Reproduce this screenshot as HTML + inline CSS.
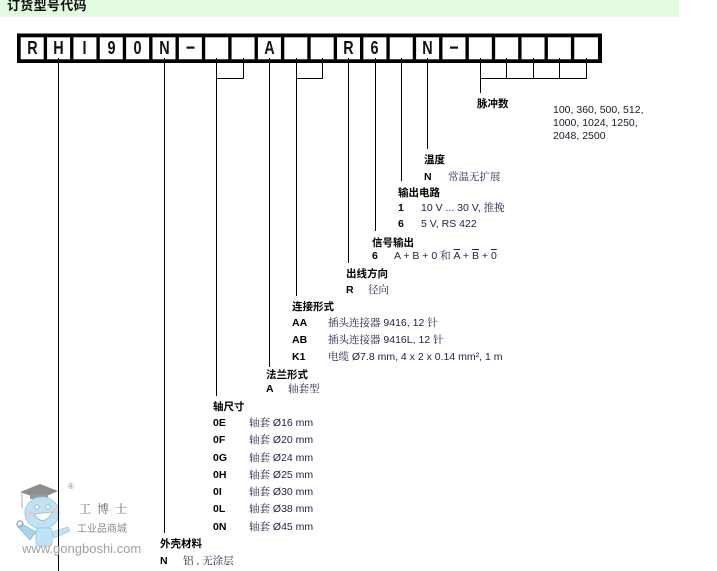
<!DOCTYPE html>
<html><head><meta charset="utf-8">
<style>
html,body{margin:0;padding:0;background:#fff;}
body{width:717px;height:571px;position:relative;overflow:hidden;font-family:"Liberation Sans","Noto Sans CJK SC",sans-serif;}
.hdr{position:absolute;left:0;top:0;width:679px;height:17px;background:#e3fbe0;}
.ttl{position:absolute;left:7px;top:-2px;font-size:13px;font-weight:bold;line-height:16px;color:#111;letter-spacing:0.3px;}
.t{position:absolute;line-height:12px;font-size:10.5px;white-space:nowrap;}
.b{font-weight:bold;color:#000;font-family:"Liberation Sans","Noto Sans CJK SC",sans-serif;}
.d{color:#22224a;font-family:"Liberation Sans","Noto Serif CJK SC",serif;}
.v{color:#1a1a2a;}
.ov{text-decoration:overline;}
svg{position:absolute;left:0;top:0;}
.L{position:absolute;top:37px;width:23px;height:22px;line-height:22px;text-align:center;font-family:"Liberation Sans",Arial,sans-serif;font-weight:bold;font-size:18px;color:#111;transform:scaleX(0.8);}
</style></head><body>
<div class="hdr"></div>
<div class="ttl">订货型号代码</div>

<svg width="717" height="571" viewBox="0 0 717 571">
  <!-- watermark -->
  <g opacity="0.85">
    <polygon points="20,492 40,484 58,491 40,499" fill="#7a7a7a"/>
    <rect x="30" y="494" width="18" height="5" fill="#888"/>
    <line x1="22" y1="492" x2="22" y2="508" stroke="#999" stroke-width="1"/>
    <ellipse cx="42" cy="513" rx="17" ry="16" fill="#b5def3" stroke="#8cc3e2" stroke-width="1"/>
    <circle cx="37" cy="507" r="2.2" fill="#fff" stroke="#7aa" stroke-width="0.8"/>
    <circle cx="48" cy="507" r="2.2" fill="#fff" stroke="#7aa" stroke-width="0.8"/>
    <circle cx="31" cy="513" r="2.5" fill="#f5b7c8"/>
    <circle cx="55" cy="511" r="2.5" fill="#f5b7c8"/>
    <path d="M34 514 Q43 528 53 512 Z" fill="#fff" stroke="#8aa" stroke-width="0.8"/>
    <rect x="36" y="528" width="16" height="18" rx="3" fill="#b5def3" stroke="#8cc3e2" stroke-width="1"/>
    <path d="M52 532 L68 527 L70 531 L54 538 Z" fill="#b5def3" stroke="#8cc3e2" stroke-width="0.8"/>
    <path d="M36 532 L22 524 L18 527 L30 540 Z" fill="#9ccbe6" stroke="#7fb0d0" stroke-width="0.8"/>
    <circle cx="20" cy="524" r="3" fill="none" stroke="#8ab" stroke-width="1.5"/>
  </g>

  <!-- code box -->
  <rect x="17" y="33.5" width="585" height="29.5" fill="#000"/>
  <g fill="#fff">
    <rect x="20.7" y="37.3" width="23" height="22"/>
    <rect x="47.06" y="37.3" width="23" height="22"/>
    <rect x="73.42" y="37.3" width="23" height="22"/>
    <rect x="99.78" y="37.3" width="23" height="22"/>
    <rect x="126.14" y="37.3" width="23" height="22"/>
    <rect x="152.5" y="37.3" width="23" height="22"/>
    <rect x="178.86" y="37.3" width="23" height="22"/>
    <rect x="205.22" y="37.3" width="23" height="22"/>
    <rect x="231.58" y="37.3" width="23" height="22"/>
    <rect x="257.94" y="37.3" width="23" height="22"/>
    <rect x="284.3" y="37.3" width="23" height="22"/>
    <rect x="310.66" y="37.3" width="23" height="22"/>
    <rect x="337.02" y="37.3" width="23" height="22"/>
    <rect x="363.38" y="37.3" width="23" height="22"/>
    <rect x="389.74" y="37.3" width="23" height="22"/>
    <rect x="416.1" y="37.3" width="23" height="22"/>
    <rect x="442.46" y="37.3" width="23" height="22"/>
    <rect x="468.82" y="37.3" width="23" height="22"/>
    <rect x="495.18" y="37.3" width="23" height="22"/>
    <rect x="521.54" y="37.3" width="23" height="22"/>
    <rect x="547.9" y="37.3" width="23" height="22"/>
    <rect x="574.26" y="37.3" width="23.7" height="22"/>
  </g>
  <rect x="186.5" y="46.5" width="8" height="2.2" fill="#111"/>
  <rect x="450" y="46.5" width="8" height="2.2" fill="#111"/>

  <!-- connector lines -->
  <g stroke="#000" stroke-width="1" fill="none">
    <line x1="58.5" y1="58" x2="58.5" y2="571"/>
    <line x1="164.5" y1="58" x2="164.5" y2="533"/>
    <line x1="216.5" y1="58" x2="216.5" y2="396"/>
    <line x1="243.5" y1="58" x2="243.5" y2="78.5"/>
    <line x1="216.5" y1="78.5" x2="243.5" y2="78.5"/>
    <line x1="269.5" y1="58" x2="269.5" y2="367"/>
    <line x1="296.5" y1="58" x2="296.5" y2="296"/>
    <line x1="322.5" y1="58" x2="322.5" y2="78.5"/>
    <line x1="296.5" y1="78.5" x2="322.5" y2="78.5"/>
    <line x1="348.5" y1="58" x2="348.5" y2="263"/>
    <line x1="375.5" y1="58" x2="375.5" y2="231"/>
    <line x1="401.5" y1="58" x2="401.5" y2="181"/>
    <line x1="427.5" y1="58" x2="427.5" y2="149"/>
    <line x1="480.5" y1="58" x2="480.5" y2="93"/>
    <line x1="506.5" y1="58" x2="506.5" y2="78.5"/>
    <line x1="533.5" y1="58" x2="533.5" y2="78.5"/>
    <line x1="559.5" y1="58" x2="559.5" y2="78.5"/>
    <line x1="586.5" y1="58" x2="586.5" y2="78.5"/>
    <line x1="480.5" y1="78.5" x2="586.5" y2="78.5"/>
  </g>
</svg>

<!-- box letters -->
<div class="L" style="left:20.7px;">R</div>
<div class="L" style="left:47.06px;">H</div>
<div class="L" style="left:73.42px;">I</div>
<div class="L" style="left:99.78px;">9</div>
<div class="L" style="left:126.14px;">0</div>
<div class="L" style="left:152.5px;">N</div>
<div class="L" style="left:257.94px;">A</div>
<div class="L" style="left:337.02px;">R</div>
<div class="L" style="left:363.38px;">6</div>
<div class="L" style="left:416.1px;">N</div>

<!-- watermark text -->
<div class="t" style="left:68px;top:481px;font-size:8px;color:#888;">®</div>
<div class="t" style="left:79px;top:502px;font-size:12px;line-height:14px;color:#6a6a6a;font-family:'Liberation Serif','Noto Serif CJK SC',serif;letter-spacing:6px;">工博士</div>
<div class="t" style="left:77px;top:524px;font-size:10px;color:#8a8a8a;">工业品商城</div>
<div class="t" style="left:22px;top:541px;font-size:13px;line-height:15px;color:#a0a0a0;">www.gongboshi.com</div>

<!-- 脉冲数 -->
<div class="t b" style="left:477px;top:98px;">脉冲数</div>
<div class="t v" style="left:553px;top:104px;">100, 360, 500, 512,</div>
<div class="t v" style="left:553px;top:117px;">1000, 1024, 1250,</div>
<div class="t v" style="left:553px;top:130px;">2048, 2500</div>

<!-- 温度 -->
<div class="t b" style="left:424px;top:154px;">温度</div>
<div class="t b" style="left:424px;top:171px;">N</div>
<div class="t d" style="left:448px;top:171px;">常温无扩展</div>

<!-- 输出电路 -->
<div class="t b" style="left:398px;top:187px;">输出电路</div>
<div class="t b" style="left:398px;top:202px;">1</div>
<div class="t d" style="left:421px;top:202px;">10 V ... 30 V, 推挽</div>
<div class="t b" style="left:398px;top:218px;">6</div>
<div class="t d" style="left:421px;top:218px;">5 V, RS 422</div>

<!-- 信号输出 -->
<div class="t b" style="left:372px;top:237px;">信号输出</div>
<div class="t b" style="left:372px;top:250px;">6</div>
<div class="t d" style="left:394px;top:250px;">A + B + 0 和 <span class="ov">A</span> + <span class="ov">B</span> + <span class="ov">0</span></div>

<!-- 出线方向 -->
<div class="t b" style="left:346px;top:268px;">出线方向</div>
<div class="t b" style="left:346px;top:284px;">R</div>
<div class="t d" style="left:368px;top:284px;">径向</div>

<!-- 连接形式 -->
<div class="t b" style="left:292px;top:301px;">连接形式</div>
<div class="t b" style="left:292px;top:317px;">AA</div>
<div class="t d" style="left:328px;top:317px;">插头连接器 9416, 12 针</div>
<div class="t b" style="left:292px;top:334px;">AB</div>
<div class="t d" style="left:328px;top:334px;">插头连接器 9416L, 12 针</div>
<div class="t b" style="left:292px;top:351px;">K1</div>
<div class="t d" style="left:328px;top:351px;">电缆 Ø7.8 mm, 4 x 2 x 0.14 mm², 1 m</div>

<!-- 法兰形式 -->
<div class="t b" style="left:266px;top:369px;">法兰形式</div>
<div class="t b" style="left:266px;top:383px;">A</div>
<div class="t d" style="left:288px;top:383px;">轴套型</div>

<!-- 轴尺寸 -->
<div class="t b" style="left:213px;top:401px;">轴尺寸</div>
<div class="t b" style="left:213px;top:417px;">0E</div>
<div class="t d" style="left:249px;top:417px;">轴套 Ø16 mm</div>
<div class="t b" style="left:213px;top:434px;">0F</div>
<div class="t d" style="left:249px;top:434px;">轴套 Ø20 mm</div>
<div class="t b" style="left:213px;top:452px;">0G</div>
<div class="t d" style="left:249px;top:452px;">轴套 Ø24 mm</div>
<div class="t b" style="left:213px;top:469px;">0H</div>
<div class="t d" style="left:249px;top:469px;">轴套 Ø25 mm</div>
<div class="t b" style="left:213px;top:486px;">0I</div>
<div class="t d" style="left:249px;top:486px;">轴套 Ø30 mm</div>
<div class="t b" style="left:213px;top:503px;">0L</div>
<div class="t d" style="left:249px;top:503px;">轴套 Ø38 mm</div>
<div class="t b" style="left:213px;top:521px;">0N</div>
<div class="t d" style="left:249px;top:521px;">轴套 Ø45 mm</div>

<!-- 外壳材料 -->
<div class="t b" style="left:160px;top:538px;">外壳材料</div>
<div class="t b" style="left:160px;top:555px;">N</div>
<div class="t d" style="left:183px;top:555px;">铝 , 无涂层</div>
</body></html>
